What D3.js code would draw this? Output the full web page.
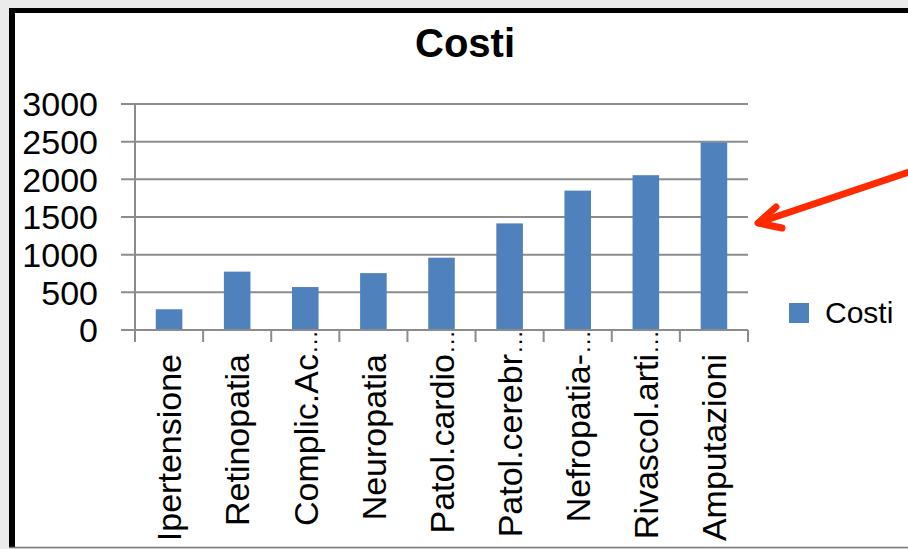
<!DOCTYPE html>
<html>
<head>
<meta charset="utf-8">
<script src="https://cdn.jsdelivr.net/npm/d3@7"></script>
<style>
  html, body { margin: 0; padding: 0; background: #ebebeb; }
  svg { display: block; }
</style>
</head>
<body>
<script>
// Costi per complicanza
const categories = [
  "Ipertensione", "Retinopatia", "Complic.Ac…", "Neuropatia", "Patol.cardio…",
  "Patol.cerebr…", "Nefropatia-…", "Rivascol.arti…", "Amputazioni"
];
const costi = [275, 775, 570, 755, 960, 1415, 1850, 2055, 2490];
const yTicks = [0, 500, 1000, 1500, 2000, 2500, 3000];
const seriesName = "Costi";
const chartTitle = "Costi";

const W = 908, H = 549;
const svg = d3.select("body").append("svg").attr("width", W).attr("height", H);

// page background and framed panel
svg.append("rect").attr("width", W).attr("height", H).attr("fill", "#ebebeb");
svg.append("rect").attr("x", 9).attr("y", 8).attr("width", W - 9).attr("height", 540).attr("fill", "#000");
svg.append("rect").attr("x", 15).attr("y", 13).attr("width", W - 15).attr("height", 534).attr("fill", "#fff");
svg.append("line").attr("x1", 9).attr("x2", W).attr("y1", 547.5).attr("y2", 547.5)
  .attr("stroke", "#7a7a7a").attr("stroke-width", 1.5);

const clip = svg.append("clipPath").attr("id", "panel")
  .append("rect").attr("x", 15).attr("y", 13).attr("width", W - 15).attr("height", 534);
const g = svg.append("g").attr("clip-path", "url(#panel)");

const plot = { left: 135, right: 748, top: 104, bottom: 330 };

const x = d3.scaleBand().domain(categories).range([plot.left, plot.right])
  .paddingInner(0.61).paddingOuter(0.305);
const y = d3.scaleLinear().domain([0, 3000]).range([plot.bottom, plot.top]);

const gridColor = "#8c8c8c";
const font = "'Liberation Sans', Arial, sans-serif";

// horizontal gridlines with short outside ticks
g.selectAll("line.grid").data(yTicks).join("line")
  .attr("class", "grid")
  .attr("x1", plot.left - 14).attr("x2", plot.right)
  .attr("y1", d => y(d)).attr("y2", d => y(d))
  .attr("stroke", gridColor).attr("stroke-width", 2);

// value axis labels
g.selectAll("text.ytick").data(yTicks).join("text")
  .attr("class", "ytick")
  .attr("x", 98).attr("y", d => y(d)).attr("dy", "0.36em")
  .attr("text-anchor", "end")
  .attr("font-family", font).attr("font-size", 34).attr("fill", "#000")
  .text(d => d);

// vertical axis line
g.append("line")
  .attr("x1", plot.left).attr("x2", plot.left)
  .attr("y1", plot.top).attr("y2", plot.bottom + 12)
  .attr("stroke", gridColor).attr("stroke-width", 2);

// category boundary ticks
const step = x.step();
const boundaries = d3.range(categories.length + 1).map(i => plot.left + i * step);
g.selectAll("line.xtick").data(boundaries.slice(1)).join("line")
  .attr("class", "xtick")
  .attr("x1", d => d).attr("x2", d => d)
  .attr("y1", plot.bottom).attr("y2", plot.bottom + 12)
  .attr("stroke", gridColor).attr("stroke-width", 2);

// bars
g.selectAll("rect.bar").data(costi).join("rect")
  .attr("class", "bar")
  .attr("x", (d, i) => x(categories[i]))
  .attr("width", x.bandwidth())
  .attr("y", d => y(d))
  .attr("height", d => y(0) - y(d))
  .attr("fill", "#4f81bd");

// baseline over the bars
g.append("line")
  .attr("x1", plot.left - 14).attr("x2", plot.right)
  .attr("y1", y(0)).attr("y2", y(0))
  .attr("stroke", gridColor).attr("stroke-width", 2);

// rotated category labels, ellipsis continues past the label end
const labelTop = 354;
const lab = g.selectAll("g.cat").data(categories).join("g")
  .attr("class", "cat")
  .attr("transform", d => `translate(${x(d) + x.bandwidth() / 2},${labelTop}) rotate(-90)`);
lab.append("text")
  .attr("x", 0).attr("y", 0).attr("dy", "0.36em")
  .attr("text-anchor", "end")
  .attr("font-family", font).attr("font-size", 34).attr("fill", "#000")
  .text(d => d.replace("…", ""));
lab.filter(d => d.includes("…")).append("text")
  .attr("x", 0).attr("y", 0).attr("dy", "0.5em")
  .attr("text-anchor", "start")
  .attr("font-family", font).attr("font-size", 24).attr("fill", "#000")
  .text("…");

// title
g.append("text")
  .attr("x", 465).attr("y", 57)
  .attr("text-anchor", "middle")
  .attr("font-family", font).attr("font-size", 40).attr("font-weight", "bold").attr("fill", "#000")
  .text(chartTitle);

// legend
g.append("rect").attr("x", 789).attr("y", 303).attr("width", 20).attr("height", 20).attr("fill", "#4f81bd");
g.append("text")
  .attr("x", 825).attr("y", 323)
  .attr("font-family", font).attr("font-size", 30).attr("fill", "#000")
  .text(seriesName);

// red pointer arrow toward the chart
const arrowColor = "#ff2a00";
const arrow = svg.append("g").attr("stroke", arrowColor).attr("stroke-width", 7)
  .attr("stroke-linecap", "round").attr("fill", "none");
arrow.append("line").attr("x1", 915).attr("y1", 170).attr("x2", 760).attr("y2", 222);
arrow.append("polyline").attr("points", "776,207 758,223 782,228")
  .attr("stroke-linejoin", "round");
</script>
</body>
</html>
